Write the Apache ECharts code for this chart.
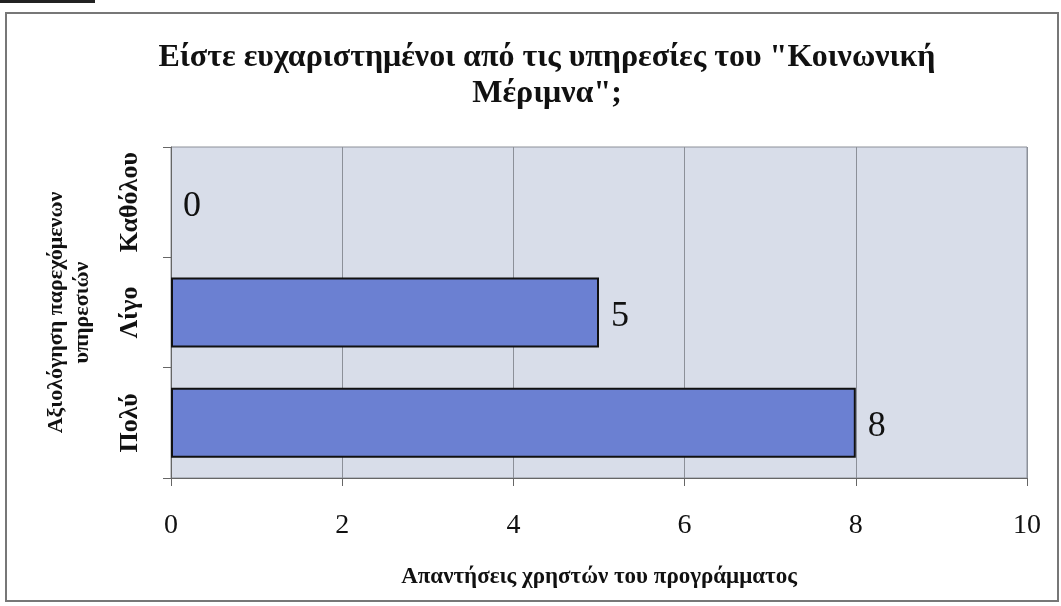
<!DOCTYPE html>
<html><head><meta charset="utf-8">
<script src="https://cdn.jsdelivr.net/npm/echarts@6/dist/echarts.min.js"></script>
<style>html,body{margin:0;padding:0;background:#fff}#c{width:1061px;height:606px}</style>
</head><body><div id="c"></div>
<script>
const categories = ['Πολύ', 'Λίγο', 'Καθόλου'];
const values = [8, 5, 0];
const xTicks = [0, 2, 4, 6, 8, 10];
const titleText = 'Είστε ευχαριστημένοι από τις υπηρεσίες του "Κοινωνική\nΜέριμνα";';
const yName = 'Αξιολόγηση παρεχόμενων\nυπηρεσιών';
const xName = 'Απαντήσεις χρηστών του προγράμματος';

const serif = '"Liberation Serif", "DejaVu Serif", serif';
const chart = echarts.init(document.getElementById('c'));
chart.setOption({
  backgroundColor: '#ffffff',
  animation: false,
  title: {
    text: titleText, left: 542, top: 35, textAlign: 'center',
    textStyle: { fontFamily: serif, fontWeight: 'bold', fontSize: 32, lineHeight: 36, color: '#111' }
  },
  graphic: [
    { type: 'rect', shape: { x: 6, y: 13, width: 1052, height: 588 }, style: { fill: 'none', stroke: '#777', lineWidth: 2 }, z: -1 },
    { type: 'rect', shape: { x: 0, y: 0, width: 95, height: 3 }, style: { fill: '#222' } }
  ],
  grid: { left: 171, right: 34, top: 147, bottom: 128, show: true, backgroundColor: '#d8dde9', borderColor: '#8c9099', borderWidth: 1 },
  xAxis: {
    type: 'value', min: 0, max: 10, interval: 2,
    name: xName, nameLocation: 'middle', nameGap: 88,
    nameTextStyle: { fontFamily: serif, fontWeight: 'bold', fontSize: 23, color: '#111' },
    axisLine: { show: true, lineStyle: { color: '#666', width: 1 } },
    axisTick: { show: true, length: 8, lineStyle: { color: '#666' } },
    axisLabel: { fontFamily: serif, fontSize: 28, color: '#111', margin: 34, formatter: v => xTicks.includes(v) ? String(v) : '' },
    splitLine: { show: true, lineStyle: { color: '#8c9099', width: 1 } }
  },
  yAxis: {
    type: 'category', data: categories,
    name: yName, nameLocation: 'middle', nameGap: 76, nameRotate: 90,
    nameTextStyle: { fontFamily: serif, fontWeight: 'bold', fontSize: 22, lineHeight: 26, color: '#111' },
    axisLine: { show: true, lineStyle: { color: '#666' } },
    axisTick: { show: true, length: 8, lineStyle: { color: '#666' } },
    axisLabel: { rotate: 90, interval: 0, fontFamily: serif, fontWeight: 'bold', fontSize: 26, color: '#111', margin: 28 },
    splitLine: { show: false }
  },
  series: [{
    type: 'bar', barWidth: 70,
    data: values.map(v => ({ value: v, itemStyle: { borderWidth: v > 0 ? 2 : 0 } })),
    itemStyle: { color: '#6b80d2', borderColor: '#111', borderWidth: 2 },
    label: { show: true, position: 'right', distance: 12, offset: [0, 4], fontFamily: serif, fontSize: 36, color: '#111' }
  }]
});
</script></body></html>
